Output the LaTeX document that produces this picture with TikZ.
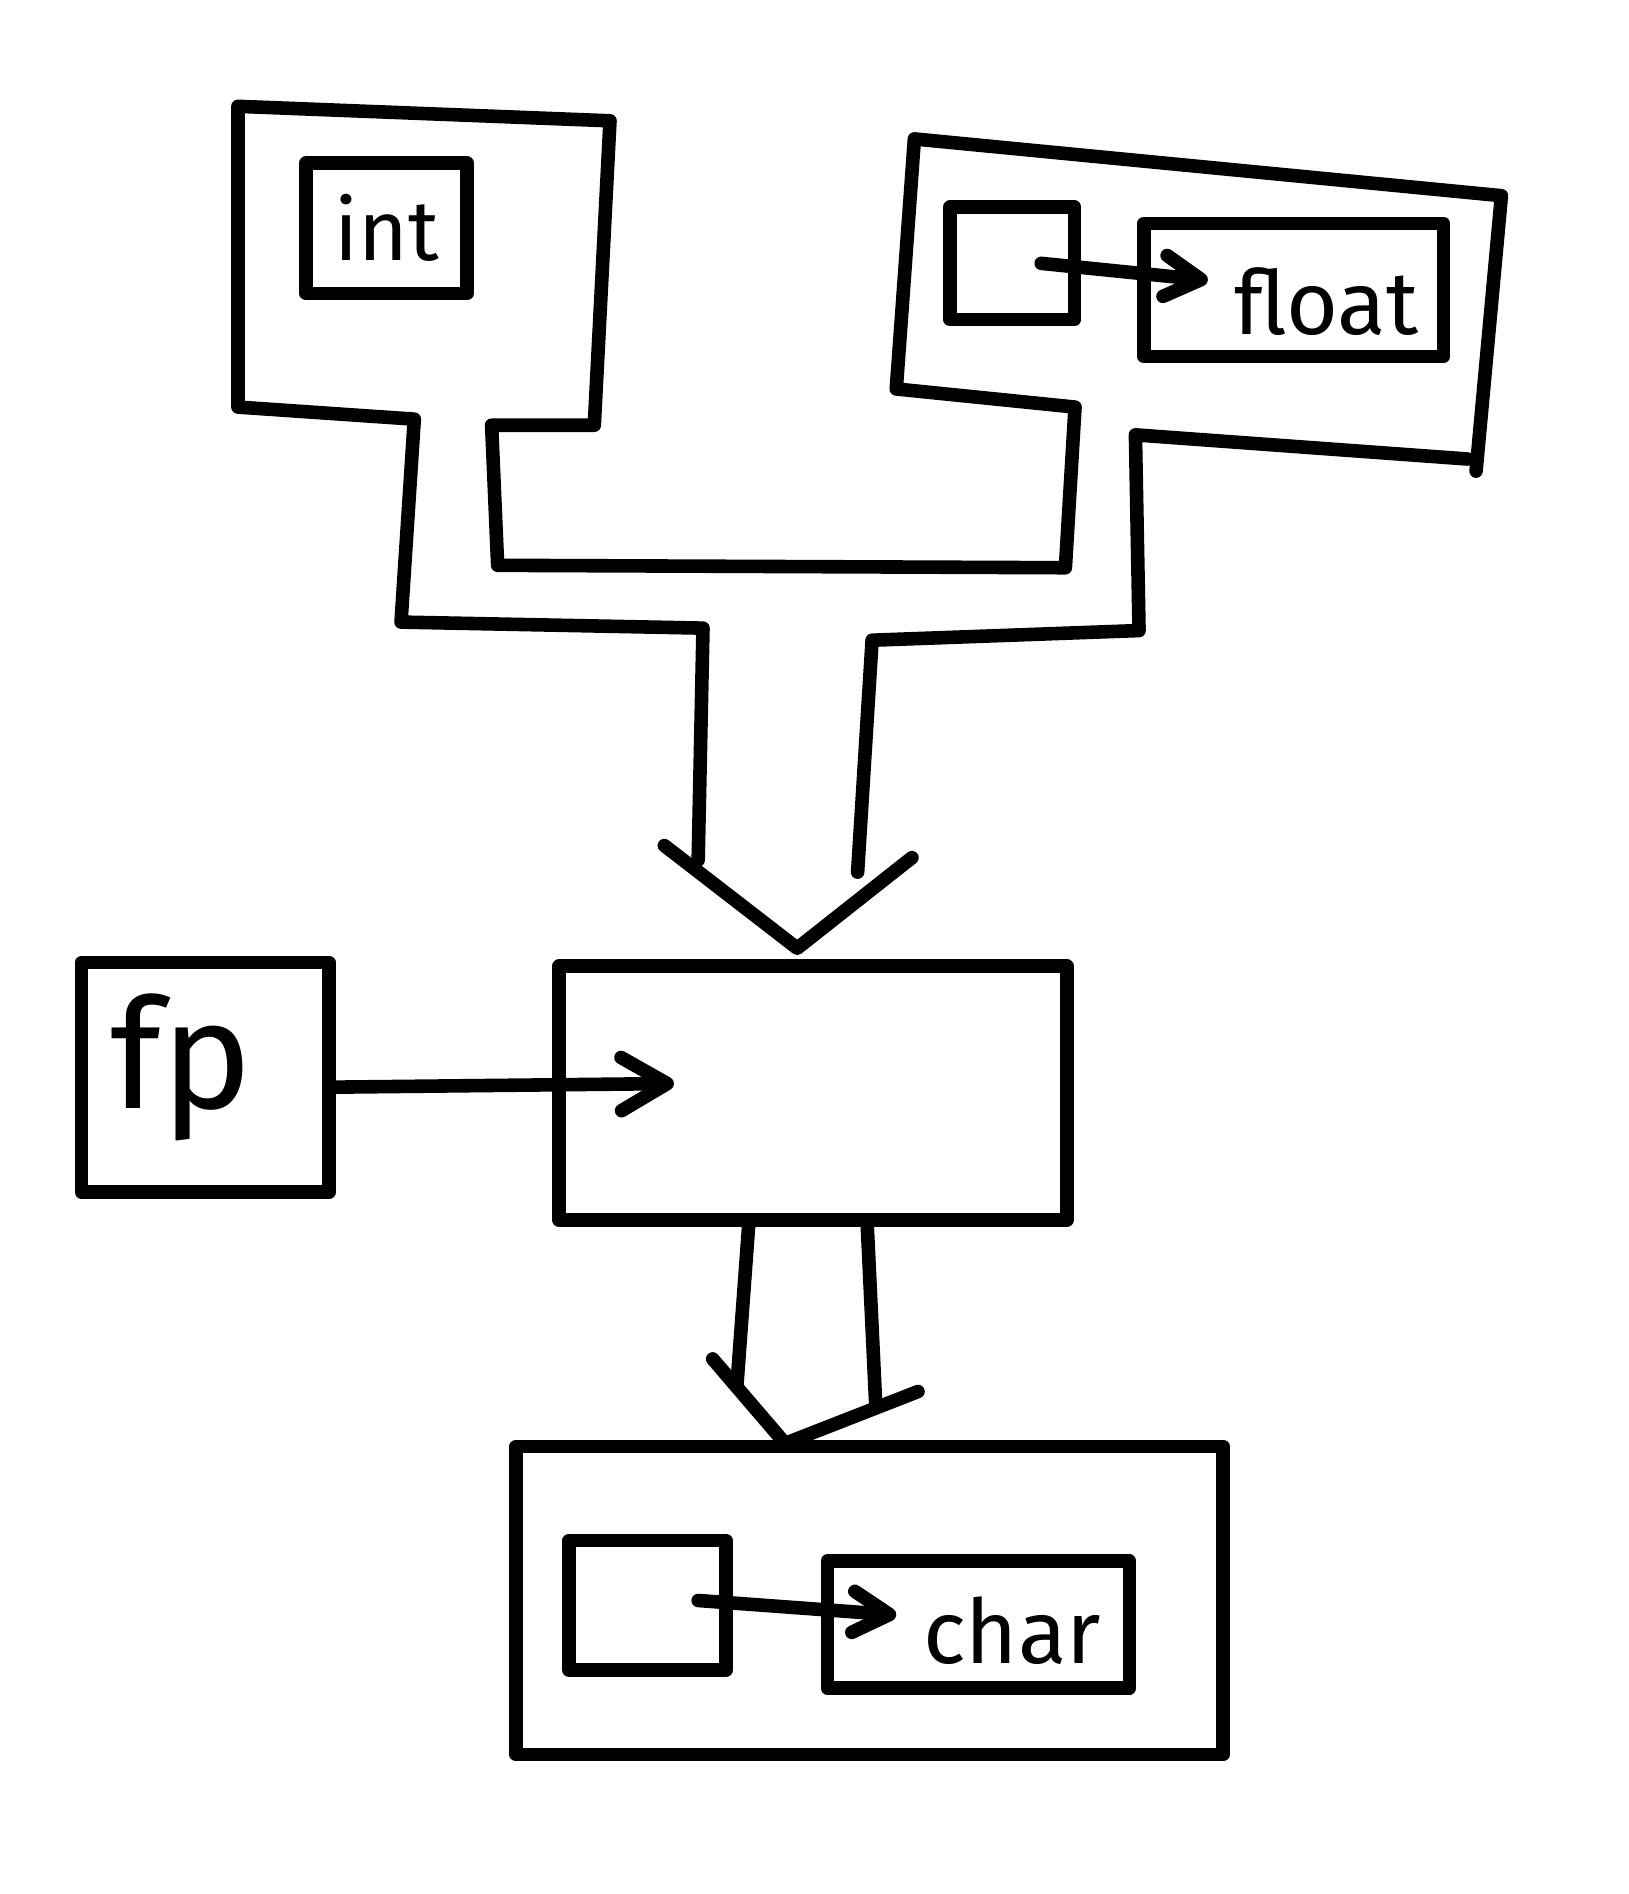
\documentclass[tikz,border=0pt]{standalone}
\usepackage{fontspec}
\setmainfont{Fira Sans}
\usetikzlibrary{arrows.meta}
\tikzset{
  ink/.style={line width=3.2pt, line cap=round, line join=round},
  box/.style={ink, draw, rectangle, inner sep=0pt},
  lbl/.style={inner sep=0pt},
  bigarr/.style={ink, -{Straight Barb[round, length=3.8mm, width=4.4mm]}},
  smallarr/.style={ink, -{Straight Barb[round, length=3mm, width=3.4mm]}},
}
\begin{document}
\begin{tikzpicture}[x=0.01cm, y=-0.01cm]
\fill[white] (0,0) rectangle (1348,1568);
\useasboundingbox (0,0) rectangle (1348,1568);

% top pipes (int and float containers merging)
\draw[ink] (578,712) -- (582,520) -- (332,515) -- (343,347) -- (197,337) -- (197,88)
  -- (505,100) -- (492,352) -- (407,352) -- (412,468) -- (882,470) -- (890,337)
  -- (742,322) -- (757,115) -- (1243,162) -- (1222,390);
\draw[ink] (1215,380) -- (940,360) -- (943,522) -- (722,530) -- (710,722);
\draw[ink] (550,700) -- (660,785) -- (755,710);

% int
\node[box, minimum width=1.33cm, minimum height=1.08cm,
      font=\fontsize{20}{24}\selectfont] (intbox) at (320,189) {int};

% float
\node[box, minimum width=1.03cm, minimum height=0.93cm] (fsrc) at (838,218) {};
\node[box, minimum width=2.48cm, minimum height=1.1cm] (floatbox) at (1071,240) {};
\node[lbl, font=\fontsize{21}{25}\selectfont] (floatlbl) at (1098,250) {float};
\coordinate (fa) at (862,218);
\coordinate (fb) at (1000,232);
\draw[smallarr] (fa) -- (fb);

% fp and middle box
\node[box, minimum width=2.05cm, minimum height=1.9cm] (fpbox) at (170,892) {};
\node[lbl, font=\fontsize{36}{40}\selectfont] (fplbl) at (150,884) {fp};
\node[box, minimum width=4.2cm, minimum height=2.1cm] (mid) at (673,905) {};
\coordinate (midin) at (558,897);
\draw[bigarr] ([yshift=-0.08cm]fpbox.east) -- (midin);

% lower pipe
\draw[ink] (620,1012) -- (610,1148);
\draw[ink] (718,1015) -- (725,1163);
\draw[ink] (590,1125) -- (650,1195) -- (760,1152);

% bottom container with char
\node[box, minimum width=5.85cm, minimum height=2.55cm] (bottom) at (720,1325) {};
\node[box, minimum width=1.3cm, minimum height=1.07cm] (csrc) at (536,1329) {};
\node[box, minimum width=2.5cm, minimum height=1.05cm] (charbox) at (810,1345) {};
\node[lbl, font=\fontsize{21}{25}\selectfont] (charlbl) at (838,1350) {char};
\coordinate (ca) at (578,1325);
\coordinate (cb) at (742,1337);
\draw[smallarr] (ca) -- (cb);
\end{tikzpicture}
\end{document}
